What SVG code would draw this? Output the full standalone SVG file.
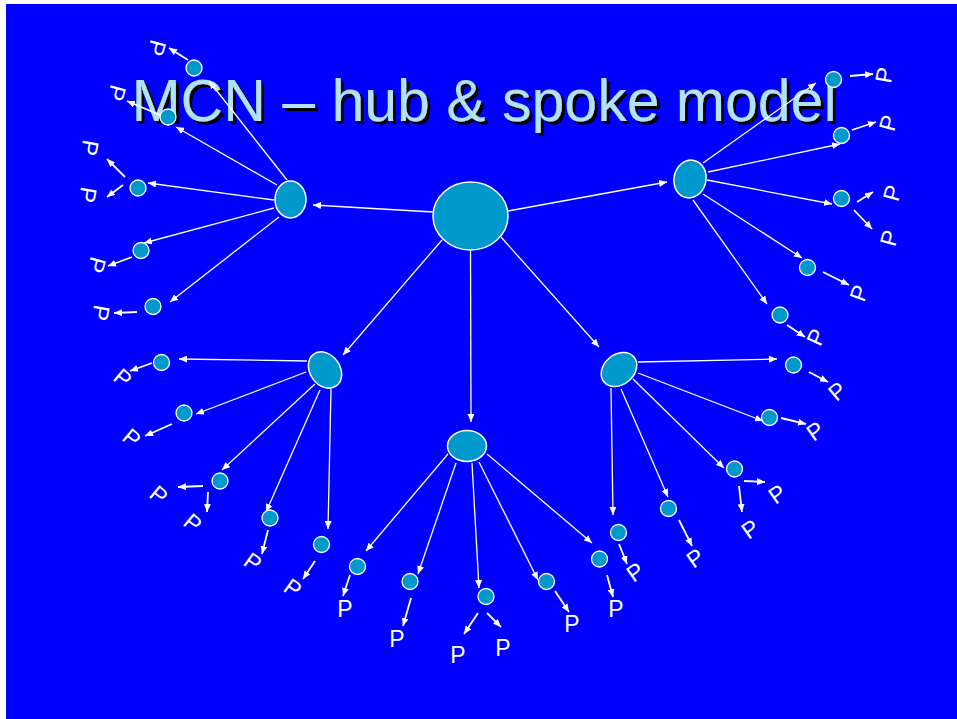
<svg xmlns="http://www.w3.org/2000/svg" width="957" height="719" viewBox="0 0 957 719">
<defs>
<marker id="ah" markerUnits="userSpaceOnUse" markerWidth="8" markerHeight="7" refX="8" refY="3.5" orient="auto">
<path d="M0,0 L8,3.5 L0,7 z" fill="#FFFFFF"/>
</marker>
<filter id="shadow" x="-5%" y="-20%" width="110%" height="140%">
<feOffset in="SourceAlpha" dx="2.5" dy="2.5" result="off"/>
<feFlood flood-color="#000000"/>
<feComposite in2="off" operator="in" result="sh"/>
<feMerge><feMergeNode in="sh"/><feMergeNode in="SourceGraphic"/></feMerge>
</filter>
<style>
.hub{fill:#0099CC;stroke:#FFFFFF;stroke-width:1.5}
.leaf{fill:#0099CC;stroke:#FFFFFF;stroke-width:1.3}
.e{stroke:#FFFFFF;stroke-width:1.3;fill:none;marker-end:url(#ah)}
.p{stroke:#FFFFFF;stroke-width:1.8;fill:none;marker-end:url(#ah)}
.pl{font-family:"Liberation Sans",Arial,sans-serif;font-size:23px;fill:#FFFFFF;text-anchor:middle}
.title{font-family:"Liberation Sans",Arial,sans-serif;font-size:59px;text-anchor:middle;fill:#B0E2F8;filter:url(#shadow)}
</style>
</defs>
<rect x="0" y="0" width="957" height="719" fill="#FFFFFF"/>
<rect x="6" y="4" width="951" height="715" fill="#0000FF"/>
<g id="title">
<text class="title" x="484" y="121">MCN – hub &amp; spoke model</text>
</g>
<g id="connectors">
<line class="e" x1="433" y1="212" x2="313" y2="205"/>
<line class="e" x1="508" y1="211" x2="667" y2="182"/>
<line class="e" x1="442" y1="240" x2="343" y2="355"/>
<line class="e" x1="470.5" y1="250" x2="471" y2="422"/>
<line class="e" x1="501" y1="237" x2="599" y2="347"/>
<line class="e" x1="287" y1="180" x2="209" y2="81"/>
<line class="e" x1="277" y1="185" x2="176" y2="127"/>
<line class="e" x1="274" y1="200" x2="148" y2="183"/>
<line class="e" x1="274" y1="208" x2="144" y2="243"/>
<line class="e" x1="279" y1="217" x2="170" y2="302"/>
<line class="p" x1="188" y1="60" x2="169" y2="48"/>
<line class="p" x1="160" y1="115" x2="127" y2="101"/>
<line class="p" x1="125" y1="177" x2="107" y2="159"/>
<line class="p" x1="123" y1="185" x2="107" y2="197"/>
<line class="p" x1="132" y1="257" x2="108" y2="266"/>
<line class="p" x1="137" y1="312" x2="114" y2="313"/>
<line class="e" x1="307" y1="361" x2="179" y2="359"/>
<line class="e" x1="306" y1="372" x2="196" y2="414"/>
<line class="e" x1="315" y1="384" x2="222" y2="470"/>
<line class="e" x1="320" y1="390" x2="266" y2="512"/>
<line class="e" x1="331" y1="389" x2="328" y2="529"/>
<line class="p" x1="152" y1="363" x2="130" y2="371"/>
<line class="p" x1="172" y1="424" x2="145" y2="436"/>
<line class="p" x1="203" y1="486" x2="178" y2="487"/>
<line class="p" x1="208" y1="492" x2="207" y2="512"/>
<line class="p" x1="268" y1="530" x2="262" y2="554"/>
<line class="p" x1="315" y1="561" x2="303" y2="579"/>
<line class="e" x1="448" y1="454" x2="366" y2="551"/>
<line class="e" x1="456" y1="463" x2="418" y2="574"/>
<line class="e" x1="472" y1="463" x2="479" y2="588"/>
<line class="e" x1="479" y1="462" x2="538" y2="580"/>
<line class="e" x1="487" y1="454" x2="592" y2="543"/>
<line class="p" x1="350" y1="575" x2="343" y2="596"/>
<line class="p" x1="411" y1="598" x2="403" y2="626"/>
<line class="p" x1="478" y1="613" x2="464" y2="634"/>
<line class="p" x1="487" y1="613" x2="501" y2="627"/>
<line class="p" x1="555" y1="591" x2="569" y2="612"/>
<line class="p" x1="607" y1="575" x2="613" y2="597"/>
<line class="e" x1="638" y1="362" x2="777" y2="359"/>
<line class="e" x1="638" y1="373" x2="763" y2="421"/>
<line class="e" x1="633" y1="379" x2="724" y2="468"/>
<line class="e" x1="621" y1="389" x2="668" y2="497"/>
<line class="e" x1="611" y1="388" x2="613" y2="515"/>
<line class="p" x1="809" y1="372" x2="828" y2="382"/>
<line class="p" x1="781" y1="418" x2="806" y2="424"/>
<line class="p" x1="744" y1="481" x2="765" y2="482"/>
<line class="p" x1="739" y1="486" x2="742" y2="512"/>
<line class="p" x1="679" y1="520" x2="692" y2="546"/>
<line class="p" x1="619" y1="544" x2="627" y2="564"/>
<line class="e" x1="703" y1="163" x2="816" y2="83"/>
<line class="e" x1="708" y1="172" x2="840" y2="144"/>
<line class="e" x1="707" y1="180" x2="832" y2="204"/>
<line class="e" x1="703" y1="194" x2="802" y2="258"/>
<line class="e" x1="693" y1="200" x2="767" y2="304"/>
<line class="p" x1="850" y1="76" x2="873" y2="74"/>
<line class="p" x1="852" y1="130" x2="876" y2="122"/>
<line class="p" x1="857" y1="202" x2="873" y2="192"/>
<line class="p" x1="854" y1="210" x2="872" y2="229"/>
<line class="p" x1="823" y1="272" x2="849" y2="285"/>
<line class="p" x1="787" y1="325" x2="805" y2="337"/>
</g>
<g id="hub-center"><ellipse class="hub" cx="470.5" cy="216" rx="37.5" ry="34"/></g>
<g id="hub-a"><ellipse class="hub" cx="290.5" cy="199.5" rx="15.5" ry="18.5"/></g>
<g id="hub-e"><ellipse class="hub" cx="690" cy="179" rx="16" ry="19" transform="rotate(12 690 179)"/></g>
<g id="hub-b"><ellipse class="hub" cx="325" cy="370" rx="15" ry="19.5" transform="rotate(-35 325 370)"/></g>
<g id="hub-d"><ellipse class="hub" cx="619" cy="369.5" rx="15" ry="19.5" transform="rotate(50 619 369.5)"/></g>
<g id="hub-c"><ellipse class="hub" cx="467" cy="446" rx="19.5" ry="15.5"/></g>
<g id="leaves-a">
<circle class="leaf" cx="194" cy="68" r="8"/>
<circle class="leaf" cx="168" cy="117" r="8"/>
<circle class="leaf" cx="138" cy="188" r="8"/>
<circle class="leaf" cx="141" cy="250.5" r="8"/>
<circle class="leaf" cx="153" cy="306.5" r="8"/>
</g>
<g id="leaves-b">
<circle class="leaf" cx="161.5" cy="362.5" r="8"/>
<circle class="leaf" cx="184" cy="413" r="8"/>
<circle class="leaf" cx="220" cy="481" r="8"/>
<circle class="leaf" cx="270" cy="518" r="8"/>
<circle class="leaf" cx="321.5" cy="544.5" r="8"/>
</g>
<g id="leaves-c">
<circle class="leaf" cx="357.5" cy="566.5" r="8"/>
<circle class="leaf" cx="410" cy="581.5" r="8"/>
<circle class="leaf" cx="486" cy="596.5" r="8"/>
<circle class="leaf" cx="546.5" cy="581.5" r="8"/>
<circle class="leaf" cx="599.5" cy="559" r="8"/>
</g>
<g id="leaves-d">
<circle class="leaf" cx="793.5" cy="365" r="8"/>
<circle class="leaf" cx="769.5" cy="417.5" r="8"/>
<circle class="leaf" cx="734.5" cy="469" r="8"/>
<circle class="leaf" cx="668.5" cy="508.5" r="8"/>
<circle class="leaf" cx="618.5" cy="532.5" r="8"/>
</g>
<g id="leaves-e">
<circle class="leaf" cx="833.5" cy="79.5" r="8"/>
<circle class="leaf" cx="841.5" cy="135.5" r="8"/>
<circle class="leaf" cx="841.5" cy="198.5" r="8"/>
<circle class="leaf" cx="807.5" cy="267.5" r="8"/>
<circle class="leaf" cx="780" cy="315" r="8"/>
</g>
<g id="labels">
<text class="pl" x="0" y="8.2" transform="translate(157 48) rotate(105)">P</text>
<text class="pl" x="0" y="8.2" transform="translate(117 93) rotate(105)">P</text>
<text class="pl" x="0" y="8.2" transform="translate(90 148) rotate(100)">P</text>
<text class="pl" x="0" y="8.2" transform="translate(88 195) rotate(100)">P</text>
<text class="pl" x="0" y="8.2" transform="translate(97 265) rotate(105)">P</text>
<text class="pl" x="0" y="8.2" transform="translate(101 313) rotate(100)">P</text>
<text class="pl" x="0" y="8.2" transform="translate(123 378) rotate(40)">P</text>
<text class="pl" x="0" y="8.2" transform="translate(132 438) rotate(40)">P</text>
<text class="pl" x="0" y="8.2" transform="translate(159 495) rotate(40)">P</text>
<text class="pl" x="0" y="8.2" transform="translate(193 523) rotate(40)">P</text>
<text class="pl" x="0" y="8.2" transform="translate(253 562) rotate(35)">P</text>
<text class="pl" x="0" y="8.2" transform="translate(293 588) rotate(35)">P</text>
<text class="pl" x="345" y="617">P</text>
<text class="pl" x="397" y="647">P</text>
<text class="pl" x="458" y="663">P</text>
<text class="pl" x="503" y="656">P</text>
<text class="pl" x="572" y="632">P</text>
<text class="pl" x="616" y="617">P</text>
<text class="pl" x="0" y="8.2" transform="translate(837 391) rotate(-40)">P</text>
<text class="pl" x="0" y="8.2" transform="translate(815 431) rotate(-35)">P</text>
<text class="pl" x="0" y="8.2" transform="translate(777 494) rotate(-35)">P</text>
<text class="pl" x="0" y="8.2" transform="translate(750 529) rotate(-35)">P</text>
<text class="pl" x="0" y="8.2" transform="translate(695 558) rotate(-35)">P</text>
<text class="pl" x="0" y="8.2" transform="translate(635 572) rotate(-35)">P</text>
<text class="pl" x="0" y="8.2" transform="translate(884 75) rotate(-80)">P</text>
<text class="pl" x="0" y="8.2" transform="translate(888 123) rotate(-75)">P</text>
<text class="pl" x="0" y="8.2" transform="translate(892 193) rotate(-75)">P</text>
<text class="pl" x="0" y="8.2" transform="translate(889 238) rotate(-75)">P</text>
<text class="pl" x="0" y="8.2" transform="translate(859 293) rotate(-70)">P</text>
<text class="pl" x="0" y="8.2" transform="translate(816 337) rotate(-65)">P</text>
</g>
</svg>
